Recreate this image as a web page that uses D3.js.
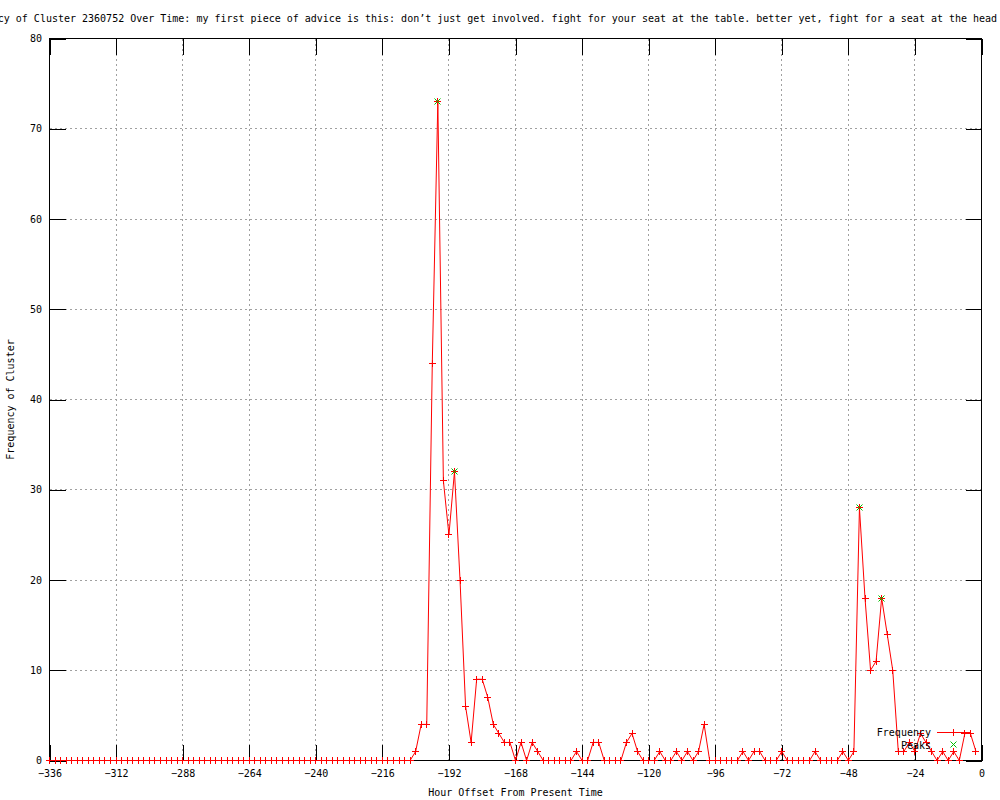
<!DOCTYPE html>
<html>
<head>
<meta charset="utf-8">
<script src="https://cdn.jsdelivr.net/npm/d3@7/dist/d3.min.js"></script>
<style>
  body { margin:0; background:#fff; }
  svg { display:block; }
  text { font-family:"DejaVu Sans Mono", monospace; font-size:10px; fill:#000; }
</style>
</head>
<body>
<svg id="chart" width="1000" height="800"></svg>
<script>
// --- Data (2-hour bins, hour offset from present) ---
const hours = [
  -336,-334,-332,-330,-328,-326,-324,-322,-320,-318,-316,-314,-312,-310,-308,-306,-304,-302,-300,-298,
  -296,-294,-292,-290,-288,-286,-284,-282,-280,-278,-276,-274,-272,-270,-268,-266,-264,-262,-260,-258,
  -256,-254,-252,-250,-248,-246,-244,-242,-240,-238,-236,-234,-232,-230,-228,-226,-224,-222,-220,-218,
  -216,-214,-212,-210,-208,-206,-204,-202,-200,-198,-196,-194,-192,-190,-188,-186,-184,-182,-180,-178,
  -176,-174,-172,-170,-168,-166,-164,-162,-160,-158,-156,-154,-152,-150,-148,-146,-144,-142,-140,-138,
  -136,-134,-132,-130,-128,-126,-124,-122,-120,-118,-116,-114,-112,-110,-108,-106,-104,-102,-100,-98,
  -96,-94,-92,-90,-88,-86,-84,-82,-80,-78,-76,-74,-72,-70,-68,-66,-64,-62,-60,-58,
  -56,-54,-52,-50,-48,-46,-44,-42,-40,-38,-36,-34,-32,-30,-28,-26,-24,-22,-20,-18,
  -16,-14,-12,-10,-8,-6,-4,-2
];
const frequency = [
  0,0,0,0,0,0,0,0,0,0,0,0,0,0,0,0,0,0,0,0,
  0,0,0,0,0,0,0,0,0,0,0,0,0,0,0,0,0,0,0,0,
  0,0,0,0,0,0,0,0,0,0,0,0,0,0,0,0,0,0,0,0,
  0,0,0,0,0,0,1,4,4,44,73,31,25,32,20,6,2,9,9,7,
  4,3,2,2,0,2,0,2,1,0,0,0,0,0,0,1,0,0,2,2,
  0,0,0,0,2,3,1,0,0,0,1,0,0,1,0,1,0,1,4,0,
  0,0,0,0,0,1,0,1,1,0,0,0,1,0,0,0,0,0,1,0,
  0,0,0,1,0,1,28,18,10,11,18,14,10,1,1,2,1,3,2,1,
  0,1,0,1,0,3,3,1
];
const peakHours  = [-196, -190, -44, -36];
const peakValues = [73, 32, 28, 18];

const xTicks = [-336,-312,-288,-264,-240,-216,-192,-168,-144,-120,-96,-72,-48,-24,0];
const yTicks = [0,10,20,30,40,50,60,70,80];

const title = "Frequency of Cluster 2360752 Over Time: my first piece of advice is this: don\u2019t just get involved. fight for your seat at the table. better yet, fight for a seat at the head of the table";

// --- Layout ---
const svg = d3.select("#chart");
const L = 49.5, R = 981.5, T = 38.5, B = 760.5;
const TICK = 16;
const x = d3.scaleLinear().domain([-336, 0]).range([L, R]);
const y = d3.scaleLinear().domain([0, 80]).range([B, T]);
const px = v => Math.round(v - 0.5) + 0.5;   // crisp pixel centre

// Grid (gray dotted)
const grid = svg.append("g").attr("stroke", "#a0a0a0").attr("stroke-dasharray", "2,3")
  .attr("shape-rendering", "crispEdges");
grid.selectAll(".gx").data(xTicks.slice(1, -1)).enter().append("line")
  .attr("x1", d => x(d)).attr("x2", d => x(d)).attr("y1", B).attr("y2", T);
grid.selectAll(".gy").data(yTicks.slice(1, -1)).enter().append("line")
  .attr("x1", L).attr("x2", R).attr("y1", d => y(d)).attr("y2", d => y(d));

// Axes: inward ticks on all four sides
function styleAxis(sel){
  sel.select(".domain").remove();
  sel.selectAll("line").attr("stroke", "#000").attr("shape-rendering", "crispEdges");
  sel.selectAll("text").attr("font-family", null).attr("font-size", null).attr("fill", "#000");
}
svg.append("g").attr("transform", `translate(0,${B})`)
  .call(d3.axisBottom(x).tickValues(xTicks).tickSize(-TICK).tickPadding(9.5)).call(styleAxis);
svg.append("g").attr("transform", `translate(0,${T})`)
  .call(d3.axisTop(x).tickValues(xTicks).tickSize(-TICK).tickFormat("")).call(styleAxis);
svg.append("g").attr("transform", `translate(${L},0)`)
  .call(d3.axisLeft(y).tickValues(yTicks).tickSize(-TICK).tickPadding(7.5)).call(styleAxis);
svg.append("g").attr("transform", `translate(${R},0)`)
  .call(d3.axisRight(y).tickValues(yTicks).tickSize(-TICK).tickFormat("")).call(styleAxis);

// Border
svg.append("rect").attr("x", L).attr("y", T).attr("width", R - L).attr("height", B - T)
  .attr("fill", "none").attr("stroke", "#000").attr("shape-rendering", "crispEdges");

// Titles
svg.append("text").attr("x", (L + R) / 2).attr("y", 22).attr("text-anchor", "middle").text(title);
svg.append("text").attr("x", (L + R) / 2).attr("y", 796).attr("text-anchor", "middle")
  .text("Hour Offset From Present Time");
svg.append("text").attr("transform", `translate(14,${(T + B) / 2}) rotate(-90)`)
  .attr("text-anchor", "middle").text("Frequency of Cluster");

// Markers
const plus  = "M-3.5,0H3.5M0,-3.5V3.5";
const cross = "M-3,-3L3,3M-3,3L3,-3";
const RED = "#ff0000", GREEN = "#00c000";

// Frequency series
const rows = hours.map((h, i) => ({ h, v: frequency[i] }));
svg.append("path").datum(rows)
  .attr("fill", "none").attr("stroke", RED).attr("stroke-width", 1)
  .attr("d", d3.line().x(d => x(d.h)).y(d => y(d.v)));
svg.append("g").selectAll("path").data(rows).enter().append("path")
  .attr("d", plus).attr("stroke", RED).attr("fill", "none")
  .attr("transform", d => `translate(${px(x(d.h))},${px(y(d.v))})`);

// Peaks
const peaks = peakHours.map((h, i) => ({ h, v: peakValues[i] }));
svg.append("g").selectAll("path").data(peaks).enter().append("path")
  .attr("d", cross).attr("stroke", GREEN).attr("fill", "none")
  .attr("transform", d => `translate(${px(x(d.h))},${px(y(d.v))})`);

// Legend (no box, like gnuplot's key)
const key = svg.append("g");
key.append("text").attr("x", 931).attr("y", 736).attr("text-anchor", "end").text("Frequency");
key.append("line").attr("x1", 937).attr("x2", 970).attr("y1", 732.5).attr("y2", 732.5).attr("stroke", RED);
key.append("path").attr("d", plus).attr("stroke", RED).attr("transform", "translate(953.5,732.5)");
key.append("text").attr("x", 931).attr("y", 748.5).attr("text-anchor", "end").text("Peaks");
key.append("path").attr("d", cross).attr("stroke", GREEN).attr("transform", "translate(953.5,744.5)");
</script>
</body>
</html>
